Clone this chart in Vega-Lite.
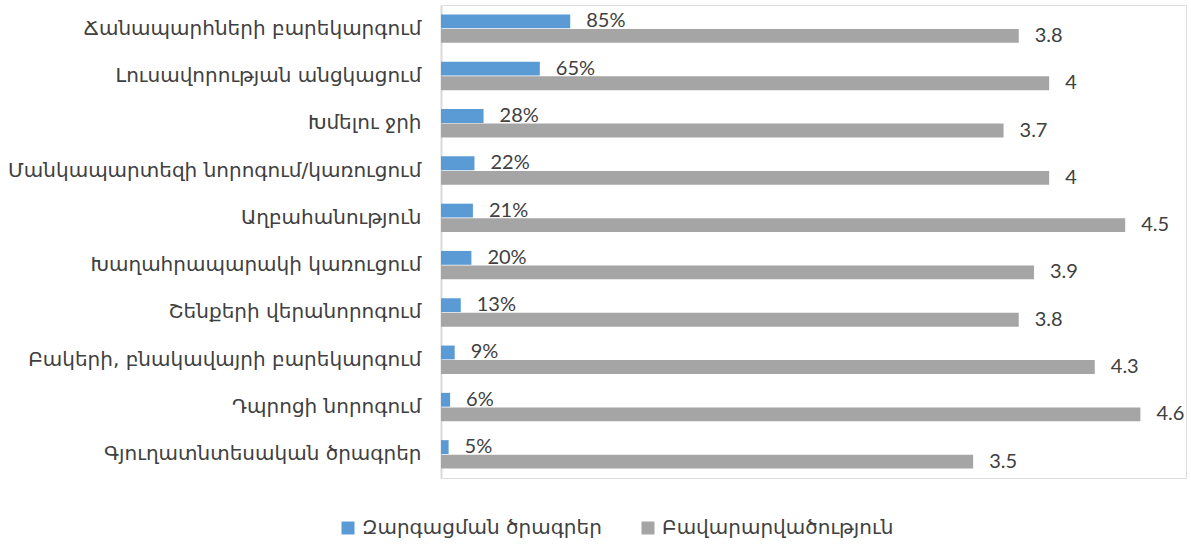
{
  "$schema": "https://vega.github.io/schema/vega-lite/v6.json",
  "width": 745,
  "height": 473,
  "autosize": {"type": "none"},
  "padding": {"left": 441, "top": 5, "right": 5, "bottom": 66},
  "background": "white",
  "data": {
    "values": [
      {"category": "Ճանապարհների բարեկարգում", "series": "Զարգացման ծրագրեր", "value": 0.85, "label": "85%"},
      {"category": "Ճանապարհների բարեկարգում", "series": "Բավարարվածություն", "value": 3.8, "label": "3.8"},
      {"category": "Լուսավորության անցկացում", "series": "Զարգացման ծրագրեր", "value": 0.65, "label": "65%"},
      {"category": "Լուսավորության անցկացում", "series": "Բավարարվածություն", "value": 4.0, "label": "4"},
      {"category": "Խմելու ջրի", "series": "Զարգացման ծրագրեր", "value": 0.28, "label": "28%"},
      {"category": "Խմելու ջրի", "series": "Բավարարվածություն", "value": 3.7, "label": "3.7"},
      {"category": "Մանկապարտեզի նորոգում/կառուցում", "series": "Զարգացման ծրագրեր", "value": 0.22, "label": "22%"},
      {"category": "Մանկապարտեզի նորոգում/կառուցում", "series": "Բավարարվածություն", "value": 4.0, "label": "4"},
      {"category": "Աղբահանություն", "series": "Զարգացման ծրագրեր", "value": 0.21, "label": "21%"},
      {"category": "Աղբահանություն", "series": "Բավարարվածություն", "value": 4.5, "label": "4.5"},
      {"category": "Խաղահրապարակի կառուցում", "series": "Զարգացման ծրագրեր", "value": 0.20, "label": "20%"},
      {"category": "Խաղահրապարակի կառուցում", "series": "Բավարարվածություն", "value": 3.9, "label": "3.9"},
      {"category": "Շենքերի վերանորոգում", "series": "Զարգացման ծրագրեր", "value": 0.13, "label": "13%"},
      {"category": "Շենքերի վերանորոգում", "series": "Բավարարվածություն", "value": 3.8, "label": "3.8"},
      {"category": "Բակերի, բնակավայրի բարեկարգում", "series": "Զարգացման ծրագրեր", "value": 0.09, "label": "9%"},
      {"category": "Բակերի, բնակավայրի բարեկարգում", "series": "Բավարարվածություն", "value": 4.3, "label": "4.3"},
      {"category": "Դպրոցի նորոգում", "series": "Զարգացման ծրագրեր", "value": 0.06, "label": "6%"},
      {"category": "Դպրոցի նորոգում", "series": "Բավարարվածություն", "value": 4.6, "label": "4.6"},
      {"category": "Գյուղատնտեսական ծրագրեր", "series": "Զարգացման ծրագրեր", "value": 0.05, "label": "5%"},
      {"category": "Գյուղատնտեսական ծրագրեր", "series": "Բավարարվածություն", "value": 3.5, "label": "3.5"}
    ]
  },
  "encoding": {
    "y": {
      "field": "category",
      "type": "nominal",
      "sort": null,
      "scale": {"paddingInner": 0.4, "paddingOuter": 0.2},
      "axis": {
        "title": null,
        "ticks": false,
        "domainColor": "#d9d9d9",
        "domainWidth": 2,
        "labelFont": "DejaVu Sans",
        "labelFontSize": 20,
        "labelColor": "#404040",
        "labelPadding": 20,
        "labelLimit": 500
      }
    },
    "yOffset": {
      "field": "series",
      "type": "nominal",
      "sort": ["Զարգացման ծրագրեր", "Բավարարվածություն"],
      "scale": {"paddingInner": 0.05}
    },
    "x": {
      "field": "value",
      "type": "quantitative",
      "scale": {"domain": [0, 4.9], "nice": false},
      "axis": null
    }
  },
  "layer": [
    {
      "mark": {"type": "bar"},
      "encoding": {
        "color": {
          "field": "series",
          "type": "nominal",
          "sort": ["Զարգացման ծրագրեր", "Բավարարվածություն"],
          "scale": {"domain": ["Զարգացման ծրագրեր", "Բավարարվածություն"], "range": ["#5B9BD5", "#A5A5A5"]},
          "legend": {
            "title": null,
            "orient": "none",
            "legendX": -103,
            "legendY": 513,
            "direction": "horizontal",
            "symbolType": "square",
            "symbolSize": 169,
            "symbolStrokeWidth": 0,
            "labelFont": "DejaVu Sans",
            "labelFontSize": 20,
            "labelColor": "#404040",
            "labelLimit": 400,
            "columnPadding": 36,
            "labelOffset": 4
          }
        }
      }
    },
    {
      "mark": {"type": "text", "align": "left", "baseline": "middle", "dx": 16, "font": "Lato, Open Sans", "fontSize": 20, "color": "#404040"},
      "encoding": {
        "text": {"field": "label"}
      }
    }
  ]
}
